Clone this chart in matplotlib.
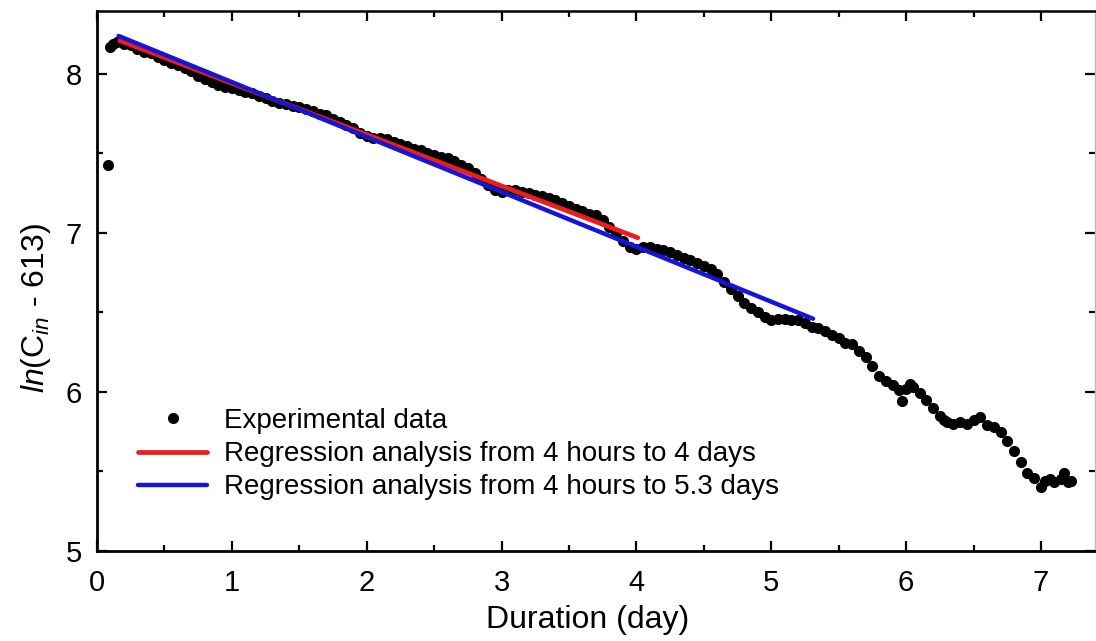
import matplotlib
matplotlib.use("Agg")
import matplotlib.pyplot as plt
from matplotlib.ticker import MultipleLocator

plt.rcParams['font.family'] = ['Liberation Sans', 'DejaVu Sans']
plt.rcParams['mathtext.fontset'] = 'custom'
plt.rcParams['mathtext.rm'] = 'Liberation Sans'
plt.rcParams['mathtext.it'] = 'Liberation Sans:italic'

# Experimental data (day, ln(Cin-613))
exp_x = [0.08, 0.10, 0.12, 0.15, 0.20, 0.25, 0.30, 0.35, 0.40, 0.45, 0.50, 0.55, 0.60, 0.65,
         0.70, 0.75, 0.80, 0.85, 0.90, 0.95, 1.00, 1.05, 1.10, 1.15, 1.20, 1.25, 1.30, 1.35,
         1.40, 1.45, 1.50, 1.55, 1.60, 1.65, 1.70, 1.75, 1.80, 1.85, 1.90, 1.95, 2.00, 2.05,
         2.10, 2.15, 2.20, 2.25, 2.30, 2.35, 2.40, 2.45, 2.50, 2.55, 2.60, 2.65, 2.70, 2.75,
         2.80, 2.85, 2.90, 2.95, 3.00, 3.05, 3.10, 3.15, 3.20, 3.25, 3.30, 3.35, 3.40, 3.45,
         3.50, 3.55, 3.60, 3.65, 3.70, 3.75, 3.80, 3.85, 3.90, 3.95, 4.00, 4.05, 4.10, 4.15,
         4.20, 4.25, 4.30, 4.35, 4.40, 4.45, 4.50, 4.55, 4.60, 4.65, 4.70, 4.75, 4.80, 4.85,
         4.90, 4.95, 5.00, 5.05, 5.10, 5.15, 5.20, 5.25, 5.30, 5.35, 5.40, 5.45, 5.50, 5.55,
         5.60, 5.65, 5.70, 5.75, 5.80, 5.85, 5.90, 5.95, 5.97, 6.00, 6.03, 6.05, 6.10, 6.15,
         6.20, 6.25, 6.28, 6.30, 6.35, 6.40, 6.45, 6.50, 6.55, 6.60, 6.65, 6.70, 6.75, 6.80,
         6.85, 6.90, 6.95, 7.00, 7.03, 7.07, 7.10, 7.15, 7.17, 7.20, 7.22]
exp_y = [7.43, 8.17, 8.19, 8.20, 8.19, 8.18, 8.16, 8.14, 8.13, 8.11, 8.09, 8.07, 8.06, 8.04,
         8.02, 7.99, 7.97, 7.95, 7.93, 7.92, 7.91, 7.90, 7.89, 7.88, 7.86, 7.85, 7.83, 7.82,
         7.81, 7.80, 7.79, 7.78, 7.77, 7.75, 7.74, 7.72, 7.70, 7.68, 7.66, 7.63, 7.61, 7.60,
         7.60, 7.59, 7.57, 7.56, 7.55, 7.53, 7.52, 7.50, 7.49, 7.48, 7.47, 7.45, 7.43, 7.41,
         7.38, 7.34, 7.30, 7.27, 7.26, 7.27, 7.27, 7.26, 7.25, 7.24, 7.23, 7.22, 7.21, 7.19,
         7.17, 7.15, 7.14, 7.12, 7.11, 7.08, 7.04, 7.00, 6.95, 6.91, 6.90, 6.91, 6.91, 6.90,
         6.89, 6.88, 6.86, 6.84, 6.83, 6.81, 6.79, 6.77, 6.74, 6.69, 6.65, 6.60, 6.56, 6.53,
         6.50, 6.47, 6.45, 6.46, 6.46, 6.45, 6.45, 6.43, 6.41, 6.40, 6.38, 6.36, 6.34, 6.31,
         6.30, 6.26, 6.22, 6.16, 6.10, 6.07, 6.04, 6.01, 5.94, 6.02, 6.05, 6.03, 5.99, 5.95,
         5.90, 5.85, 5.82, 5.81, 5.80, 5.81, 5.80, 5.82, 5.84, 5.79, 5.78, 5.75, 5.69, 5.63,
         5.56, 5.49, 5.46, 5.40, 5.44, 5.45, 5.43, 5.45, 5.49, 5.43, 5.44]

# Regression lines (endpoints)
reg1_x = [0.17, 4.01]
reg1_y = [8.21, 6.97]
reg2_x = [0.16, 5.31]
reg2_y = [8.24, 6.46]

labels = ["Experimental data",
          "Regression analysis from 4 hours to 4 days",
          "Regression analysis from 4 hours to 5.3 days"]

fig = plt.figure(figsize=(10.96, 6.41), dpi=100)
ax = fig.add_axes([0.0885, 0.1409, 0.9105, 0.8427])

ax.plot(exp_x, exp_y, 'o', color='black', markersize=7, linestyle='none',
        label=labels[0], zorder=2)
ax.plot(reg1_x, reg1_y, color='#ee1c1c', linewidth=3.4, solid_capstyle='round',
        label=labels[1], zorder=3)
ax.plot(reg2_x, reg2_y, color='#1515d8', linewidth=3.2, solid_capstyle='round',
        label=labels[2], zorder=4)

ax.set_xlim(0, 7.4)
ax.set_ylim(5, 8.4)
ax.xaxis.set_major_locator(MultipleLocator(1))
ax.xaxis.set_minor_locator(MultipleLocator(0.5))
ax.yaxis.set_major_locator(MultipleLocator(1))
ax.yaxis.set_minor_locator(MultipleLocator(0.5))
ax.tick_params(which='both', direction='in', top=True, right=True, width=1.6,
               labelsize=21)
ax.tick_params(axis='x', which='major', pad=13)
ax.tick_params(axis='y', which='major', pad=11)
ax.tick_params(which='major', length=7)
ax.tick_params(which='minor', length=4.5)

for s in ['left', 'bottom']:
    ax.spines[s].set_linewidth(2.0)
ax.spines['top'].set_linewidth(1.8)
ax.spines['right'].set_linewidth(1.0)
ax.spines['right'].set_color('#bbbbbb')

ax.set_xlabel('Duration (day)', fontsize=23, labelpad=6)
ax.set_ylabel(r'$\mathit{ln}(\mathrm{C}_{\mathit{in}}$ - 613)', fontsize=23, labelpad=9)
ax.xaxis.label.set_x(0.492)
ax.yaxis.label.set_y(0.449)

ax.legend(loc='lower left', bbox_to_anchor=(0.041, 0.093), frameon=False, fontsize=20,
          handlelength=2.5, handletextpad=0.6, labelspacing=0.26, borderaxespad=0,
          borderpad=0)

fig.savefig('out.png', dpi=100)
